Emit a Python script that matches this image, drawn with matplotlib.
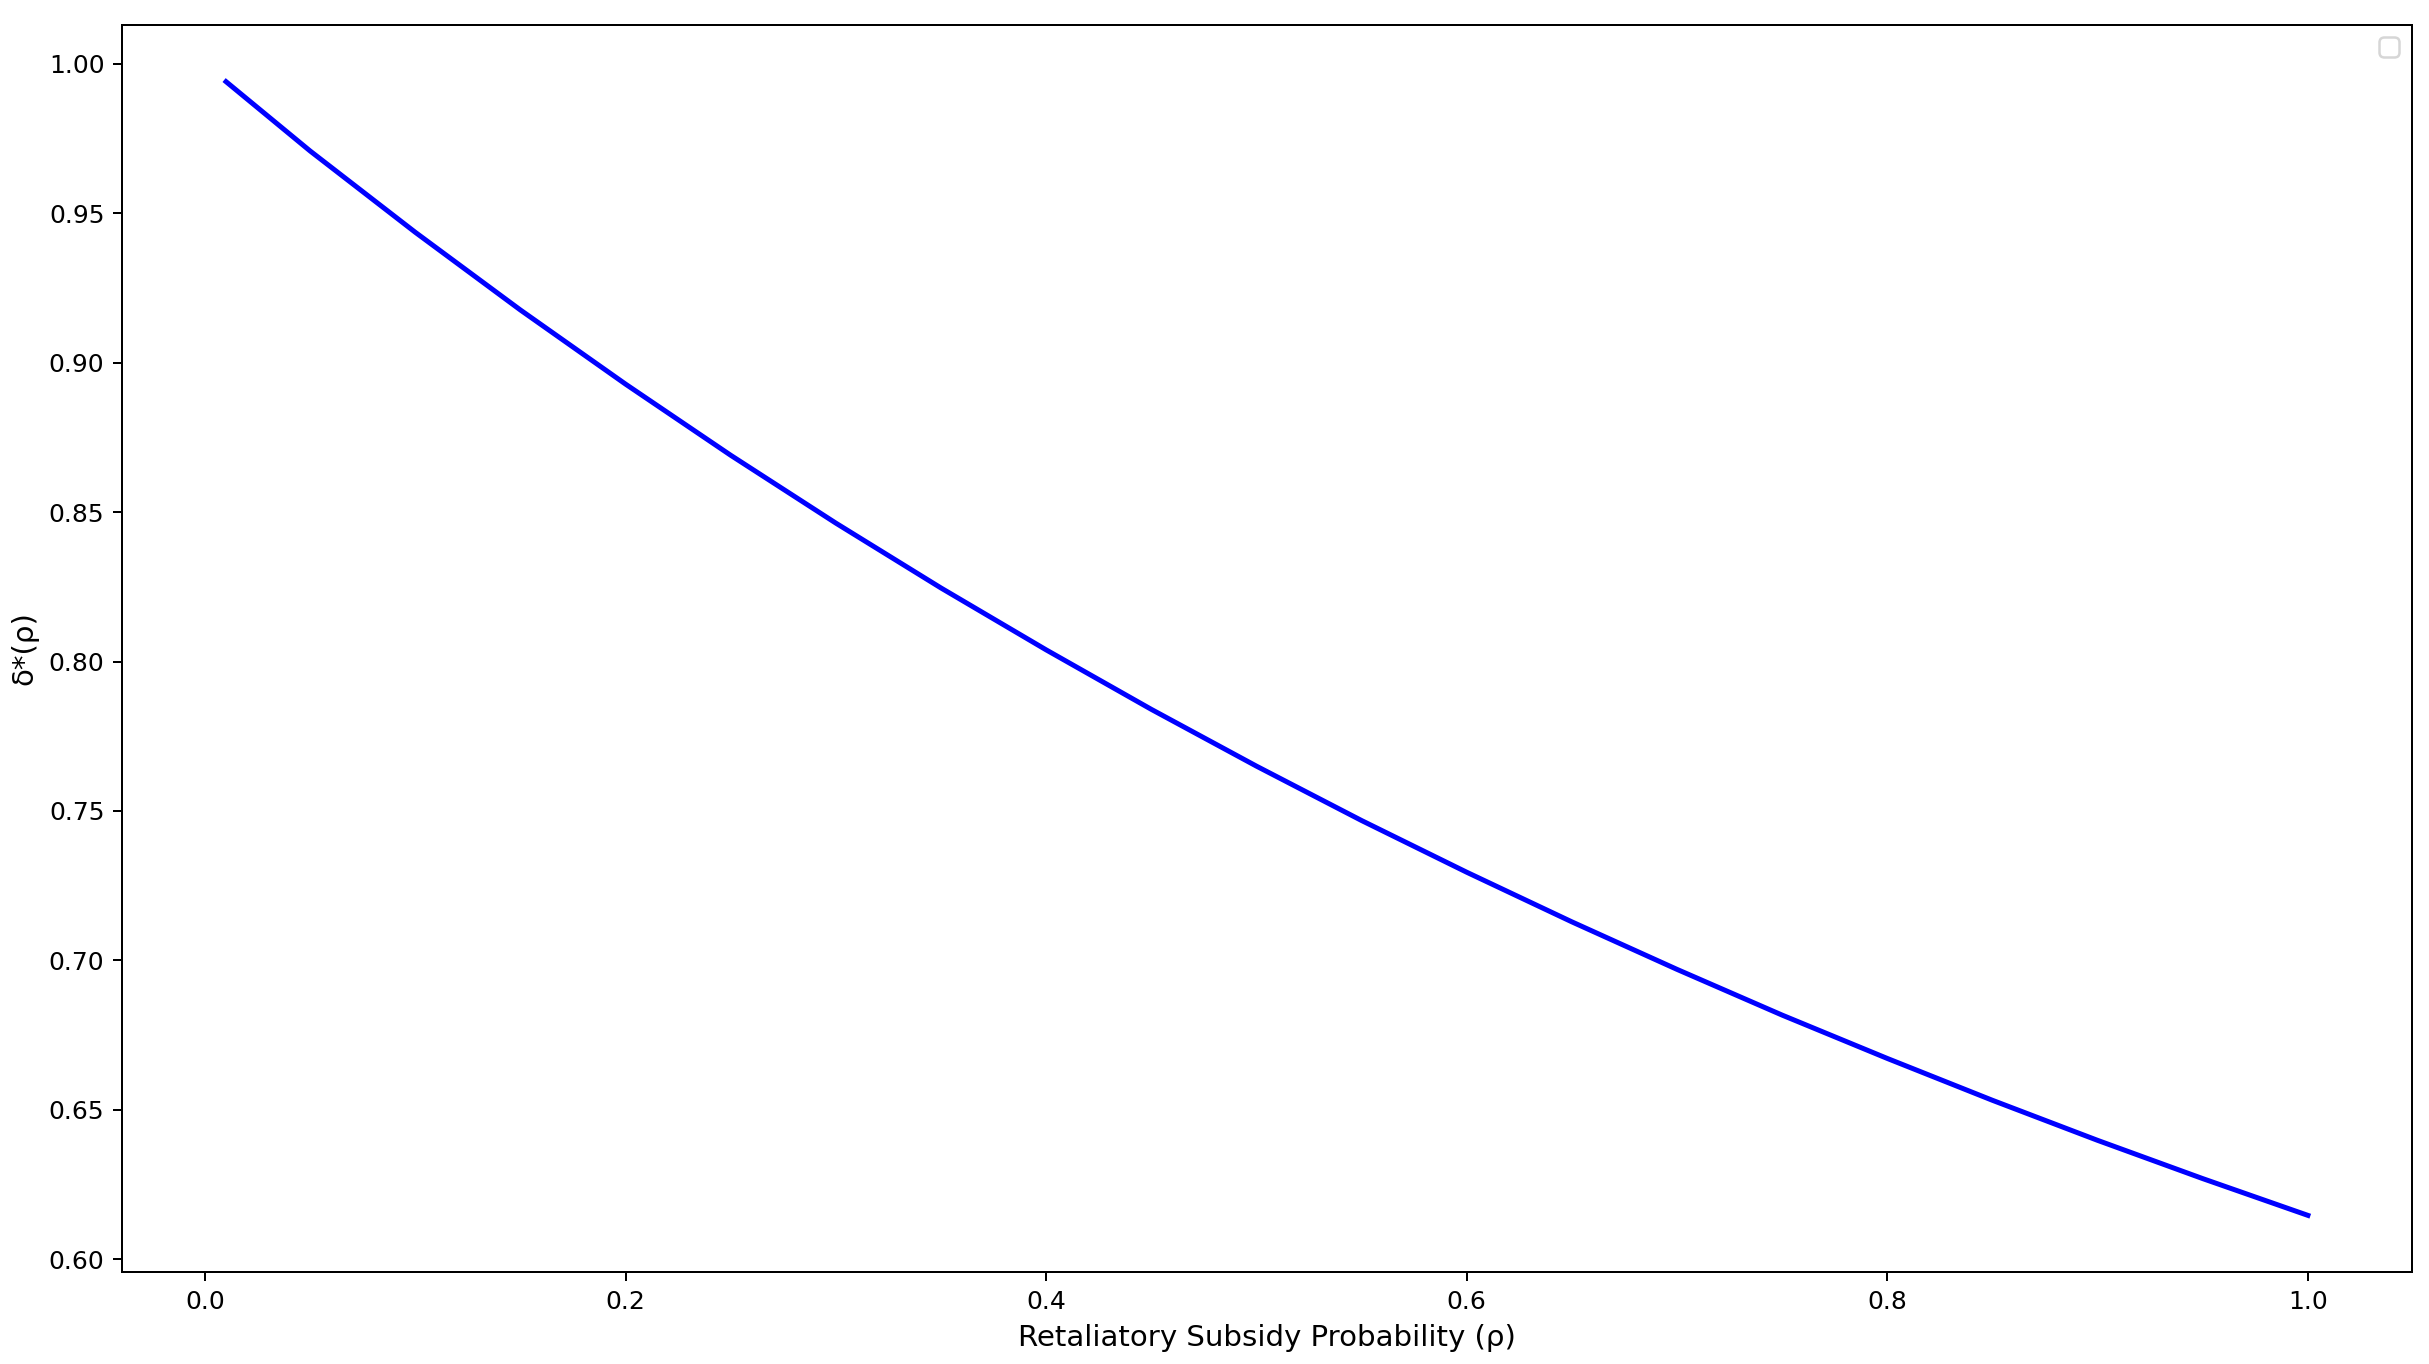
import numpy as np
import matplotlib.pyplot as plt

# Значення
rho = [0.01, 0.05, 0.10, 0.15, 0.20, 0.25, 0.30, 0.35, 0.40, 0.45, 0.50,
       0.55, 0.60, 0.65, 0.70, 0.75, 0.80, 0.85, 0.90, 0.95, 1.00]
delta_star = [0.9940, 0.9708, 0.9436, 0.9176, 0.8928, 0.8690, 0.8463, 0.8246, 0.8039,
              0.7840, 0.7650, 0.7468, 0.7295, 0.7129, 0.6970, 0.6817, 0.6672, 0.6532,
              0.6398, 0.6270, 0.6147]

dpi = 180
fig = plt.figure(figsize=(2429 / dpi, 1364 / dpi), dpi=dpi)
ax = fig.add_axes([0.0502, 0.0674, 0.9428, 0.9143])

ax.plot(rho, delta_star, color='blue', linewidth=2)
ax.set_xlabel('Retaliatory Subsidy Probability (ρ)', fontsize=11.7)
ax.set_ylabel('δ*(ρ)', fontsize=11.7)
ax.legend(handles=[], loc='upper right')

fig.savefig('out.png', dpi=dpi)
